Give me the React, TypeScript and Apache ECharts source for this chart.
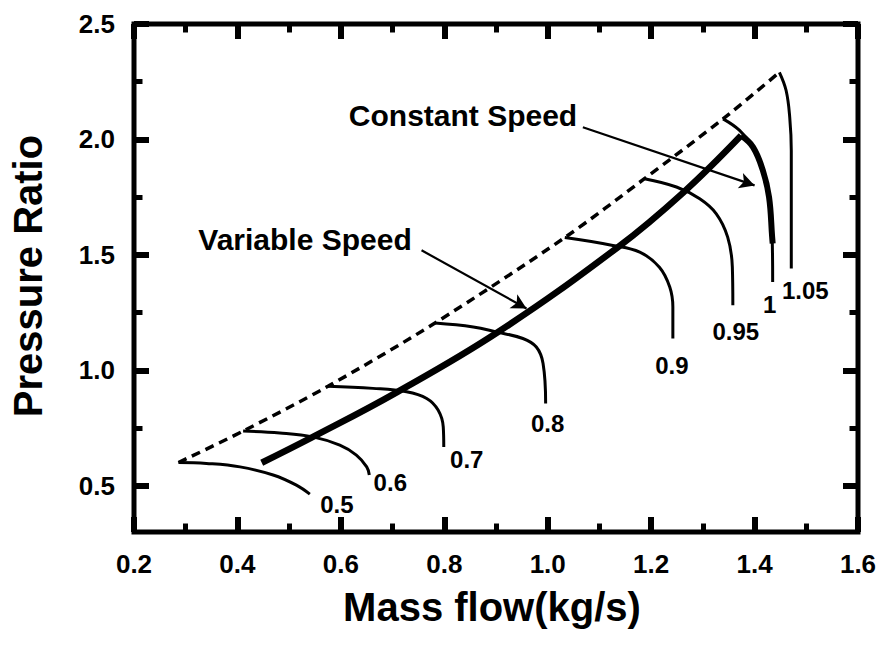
import React, { useEffect, useRef } from "react";
import * as echarts from "echarts";

// ---- data (Mass flow kg/s, Pressure ratio) ----
const speedNames = ["0.5", "0.6", "0.7", "0.8", "0.9", "0.95", "1", "1.05"];

const speed05 = [[0.286, 0.601], [0.340, 0.597], [0.405, 0.582], [0.469, 0.547], [0.514, 0.503], [0.540, 0.464]];
const speed06 = [[0.411, 0.737], [0.482, 0.729], [0.546, 0.712], [0.598, 0.676], [0.630, 0.633], [0.650, 0.582], [0.655, 0.547]];
const speed07 = [[0.575, 0.931], [0.662, 0.922], [0.727, 0.907], [0.766, 0.878], [0.788, 0.828], [0.798, 0.755], [0.799, 0.668]];
const speed08 = [[0.782, 1.205], [0.856, 1.188], [0.901, 1.166], [0.952, 1.138], [0.978, 1.101], [0.991, 1.030], [0.996, 0.857]];
const speed09 = [[1.033, 1.575], [1.126, 1.541], [1.178, 1.512], [1.216, 1.447], [1.236, 1.361], [1.242, 1.274], [1.242, 1.138]];
const speed095 = [[1.187, 1.830], [1.249, 1.794], [1.294, 1.743], [1.326, 1.678], [1.348, 1.577], [1.357, 1.448], [1.358, 1.282]];
const speed10 = [[1.339, 2.089], [1.371, 2.039], [1.397, 1.967], [1.416, 1.866], [1.428, 1.750], [1.434, 1.577], [1.435, 1.383]];
const speed105 = [[1.448, 2.291], [1.461, 2.212], [1.468, 2.096], [1.471, 1.952], [1.471, 1.441]];

const speedLines = [speed05, speed06, speed07, speed08, speed09, speed095, speed10, speed105];

const surgeLine = [[0.286, 0.601], [0.411, 0.737], [0.575, 0.931], [0.782, 1.205], [1.033, 1.575], [1.187, 1.830], [1.339, 2.089], [1.448, 2.291]];
const variableSpeedLine = [[0.447, 0.600], [0.546, 0.712], [0.708, 0.905], [0.904, 1.166], [1.136, 1.534], [1.262, 1.770], [1.374, 2.017]];
const constantSpeedLine = [[1.374, 2.017], [1.397, 1.967], [1.416, 1.866], [1.428, 1.750], [1.434, 1.577], [1.435, 1.549]];

const constantArrow = [[1.068, 2.053], [1.400, 1.801]];
const variableArrow = [[0.756, 1.520], [0.959, 1.268]];

const yMajorTicks = [0.5, 1.0, 1.5, 2.0, 2.5];
const yMinorTicks = [0.75, 1.25, 1.75, 2.25];

// ---- layout / style ----
const labelOffsets: Record<string, number[]> = {
  "0.5": [27, 10],
  "0.6": [21, 8],
  "0.7": [23, 12],
  "0.8": [2, 20],
  "0.9": [-1, 27],
  "0.95": [3, 26],
  "1": [-3, 23],
  "1.05": [14, 22],
};

const FONT = "'Liberation Sans', Arial, Helvetica, sans-serif";

export default function App() {
  const ref = useRef<HTMLDivElement>(null);

  useEffect(() => {
    if (!ref.current) return;
    const chart = echarts.init(ref.current, null, { renderer: "svg" });

    const tickLabel = {
      fontSize: 26,
      fontWeight: "bold",
      color: "#000",
      fontFamily: FONT,
    };

    const xAxisBase = (pos: string, showLabel: boolean) => ({
      type: "value",
      position: pos,
      min: 0.2,
      max: 1.6,
      interval: 0.2,
      axisLine: { show: false },
      splitLine: { show: false },
      minorSplitLine: { show: false },
      axisTick: { show: true, inside: true, length: 15, lineStyle: { color: "#000", width: 6 } },
      minorTick: { show: true, splitNumber: 2, length: 8.5, lineStyle: { color: "#000", width: 5 } },
      axisLabel: {
        show: showLabel,
        margin: 19,
        ...tickLabel,
        formatter: (v: number) => v.toFixed(1),
      },
    });

    const yAxisBase = (pos: string, ticks: number[], major: boolean, showLabel: boolean) => ({
      type: "value",
      position: pos,
      min: 0.3,
      max: 2.5,
      axisLine: { show: false },
      splitLine: { show: false },
      axisTick: {
        show: true,
        inside: true,
        customValues: ticks,
        length: major ? 15 : 8.5,
        lineStyle: { color: "#000", width: major ? 6 : 5 },
      },
      axisLabel: {
        show: showLabel,
        customValues: ticks,
        margin: 19,
        ...tickLabel,
        formatter: (v: number) => v.toFixed(1),
      },
    });

    const speedSeries = speedLines.map((d, i) => {
      const name = speedNames[i];
      return {
        type: "line",
        name: "N=" + name,
        data: d,
        smooth: 0.4,
        showSymbol: false,
        symbol: "none",
        z: 3,
        lineStyle: { color: "#000", width: 3 },
        endLabel: {
          show: true,
          formatter: () => name,
          align: "center",
          verticalAlign: "middle",
          distance: 0,
          offset: labelOffsets[name],
          fontSize: 24,
          fontWeight: "bold",
          color: "#000",
          fontFamily: FONT,
        },
      };
    });

    chart.setOption({
      animation: false,
      backgroundColor: "#fff",
      grid: {
        left: 134,
        right: 26,
        top: 24,
        bottom: 116,
        show: true,
        borderColor: "#000",
        borderWidth: 5,
        backgroundColor: "transparent",
      },
      xAxis: [xAxisBase("bottom", true), xAxisBase("top", false)],
      yAxis: [
        yAxisBase("left", yMajorTicks, true, true),
        yAxisBase("left", yMinorTicks, false, false),
        yAxisBase("right", yMajorTicks, true, false),
        yAxisBase("right", yMinorTicks, false, false),
      ],
      series: [
        {
          type: "line",
          name: "Surge line",
          data: surgeLine,
          smooth: 0.3,
          showSymbol: false,
          symbol: "none",
          z: 2,
          lineStyle: { color: "#000", width: 3.5, type: [9, 6] },
        },
        ...speedSeries,
        {
          type: "line",
          name: "Variable Speed",
          data: variableSpeedLine,
          smooth: 0.4,
          showSymbol: false,
          symbol: "none",
          z: 5,
          lineStyle: { color: "#000", width: 6.5 },
          markLine: {
            silent: true,
            symbol: ["none", "arrow"],
            symbolSize: [12, 15],
            label: { show: false },
            lineStyle: { color: "#000", width: 2.2, type: "solid" },
            data: [
              [{ coord: constantArrow[0] }, { coord: constantArrow[1] }],
              [{ coord: variableArrow[0] }, { coord: variableArrow[1] }],
            ],
          },
        },
        {
          type: "line",
          name: "Constant Speed",
          data: constantSpeedLine,
          smooth: 0.4,
          showSymbol: false,
          symbol: "none",
          z: 5,
          lineStyle: { color: "#000", width: 6 },
        },
      ],
      graphic: [
        {
          type: "text",
          x: 492,
          y: 607,
          style: {
            text: "Mass flow(kg/s)",
            fontSize: 40,
            fontWeight: "bold",
            fontFamily: FONT,
            fill: "#000",
            textAlign: "center",
            textVerticalAlign: "middle",
          },
        },
        {
          type: "text",
          x: 28,
          y: 276,
          rotation: Math.PI / 2,
          style: {
            text: "Pressure Ratio",
            fontSize: 40,
            fontWeight: "bold",
            fontFamily: FONT,
            fill: "#000",
            textAlign: "center",
            textVerticalAlign: "middle",
          },
        },
        {
          type: "text",
          x: 463,
          y: 115,
          style: {
            text: "Constant Speed",
            fontSize: 30,
            fontWeight: "bold",
            fontFamily: FONT,
            fill: "#000",
            textAlign: "center",
            textVerticalAlign: "middle",
          },
        },
        {
          type: "text",
          x: 305,
          y: 239,
          style: {
            text: "Variable Speed",
            fontSize: 30,
            fontWeight: "bold",
            fontFamily: FONT,
            fill: "#000",
            textAlign: "center",
            textVerticalAlign: "middle",
          },
        },
      ],
    });

    return () => chart.dispose();
  }, []);

  return (
    <div
      ref={ref}
      style={{ position: "fixed", left: 0, top: 0, width: 884, height: 648, background: "#fff" }}
    />
  );
}
